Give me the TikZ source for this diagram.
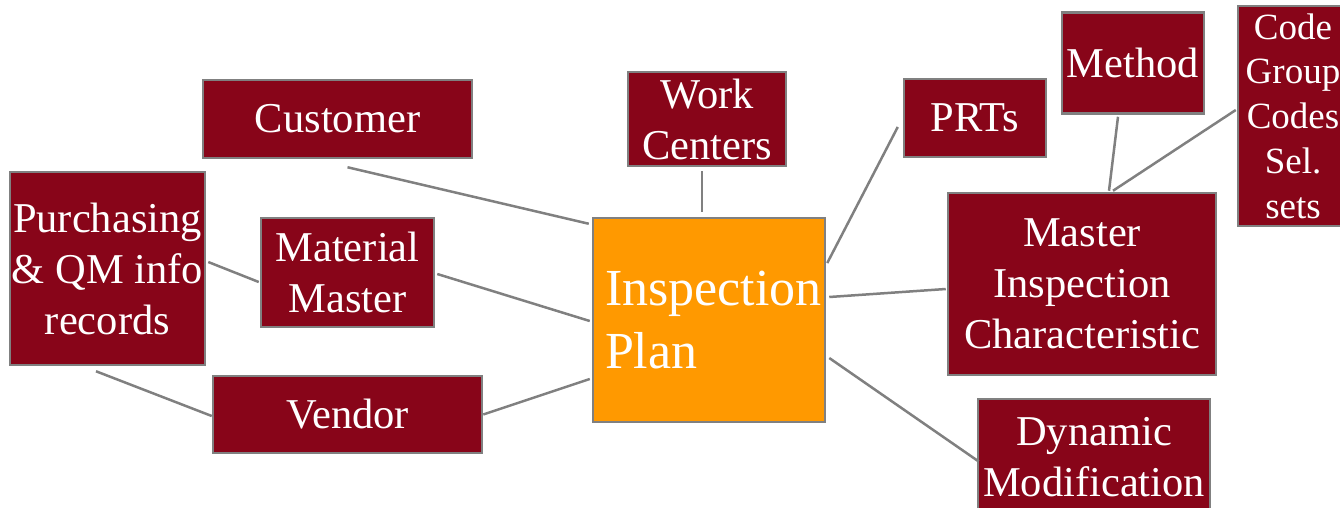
\documentclass[tikz,border=0pt]{standalone}
\usepackage{fontspec}
\setmainfont{Liberation Serif}
\usepackage{tikz}
\usetikzlibrary{calc}
\definecolor{boxred}{RGB}{136,5,25}
\definecolor{planorange}{RGB}{255,153,0}
\definecolor{edgegray}{RGB}{128,128,128}

\begin{document}
\begin{tikzpicture}[x=1pt,y=-1pt,
    box/.style={draw=edgegray,line width=2.5pt,fill=boxred,text=white,
      align=center,inner sep=0pt,font=\fontsize{42.5}{51}\selectfont},
    link/.style={draw=edgegray,line width=2.5pt}]
    \useasboundingbox (0,0) rectangle (1340,507);

    % left side
    \node[box,minimum width=269,minimum height=78] (cust) at (337.5,119) {Customer};
    \node[box,minimum width=158,minimum height=94] (work) at (707,119) {Work\\Centers};
    \node[box,minimum width=195,minimum height=193] (purch) at (107.5,268.5)
      {Purchasing\\\&~QM info\\records};
    \node[box,minimum width=173,minimum height=109] (matl) at (347.5,272.5) {Material\\Master};
    \node[box,minimum width=269,minimum height=77] (vend) at (347.5,414.5) {Vendor};

    % centre
    \node[box,fill=planorange,minimum width=232,minimum height=204,
      text width=208,align=left,font=\fontsize{52}{63}\selectfont]
      (plan) at (709,320) {\mbox{Inspection}\\Plan};

    % right side
    \node[box,minimum width=142,minimum height=78] (prts) at (975,118) {PRTs};
    \node[box,minimum width=142,minimum height=101] (meth) at (1133,63) {Method};
    \node[box,minimum width=110,minimum height=220,font=\fontsize{37}{44.7}\selectfont]
      (code) at (1293,116) {Code\\Group\\Codes\\Sel.\\sets};
    \node[box,minimum width=268,minimum height=182] (mic) at (1082,284)
      {Master\\Inspection\\Characteristic};
    \node[box,minimum width=232,minimum height=117] (dyn) at (1094,457.5)
      {Dynamic\\Modification};

    \draw[link] ($(cust.south)+(10,8)$) -- ($(plan.north west)+(-3,7)$);
    \draw[link] ($(work.south)+(-5,4)$) -- ($(plan.north)+(-7,-5)$);
    \draw[link] ($(purch.east)+(2,-6.5)$) -- ($(matl.west)+(-1,9.5)$);
    \draw[link] ($(matl.east)+(2,1.5)$) -- ($(plan.west)+(-2,1)$);
    \draw[link] ($(purch.south)+(-11.5,5)$) -- ($(vend.west)+(0,1.5)$);
    \draw[link] (vend.east) -- ($(plan.west)+(-2,59)$);
    \draw[link] ($(plan.east)+(1,-57)$) -- ($(prts.west)+(-5,9)$);
    \draw[link] ($(plan.east)+(3,-23)$) -- ($(mic.west)+(-1,5)$);
    \draw[link] ($(plan.east)+(3,38)$) -- ($(dyn.west)+(2,4)$);
    \draw[link] ($(mic.north)+(27,-1)$) -- ($(meth.south)+(-15,2)$);
    \draw[link] ($(mic.north)+(31,-1)$) -- ($(code.west)+(-1,-6)$);
  \end{tikzpicture}
\end{document}
